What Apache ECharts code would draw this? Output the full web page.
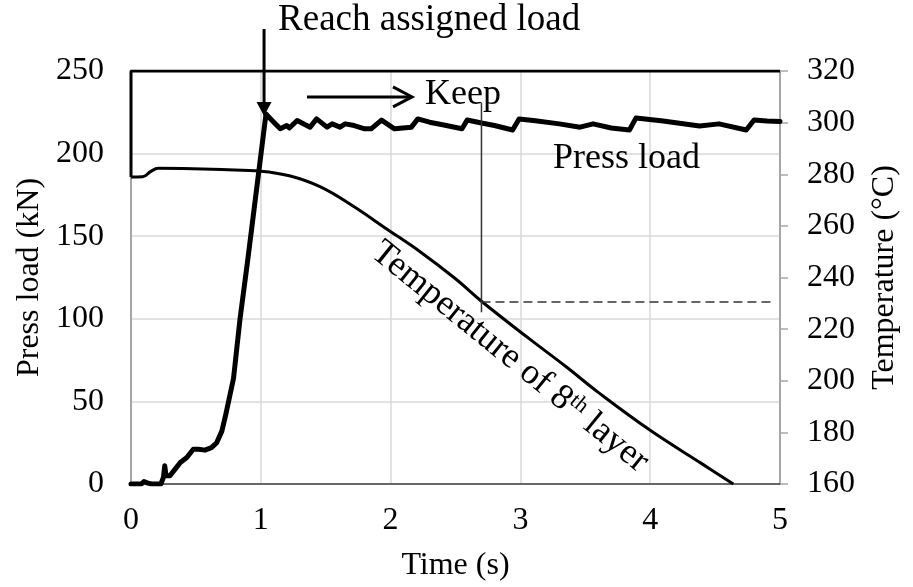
<!DOCTYPE html>
<html>
<head>
<meta charset="utf-8">
<script src="https://cdn.jsdelivr.net/npm/echarts@6/dist/echarts.min.js"></script>
<style>
  html, body { margin: 0; padding: 0; background: #fff; }
  #chart { width: 913px; height: 587px; }
</style>
</head>
<body>
<div id="chart"></div>
<script>
// press load (kN) vs time (s), left axis
const pressLoad = [
  [0, 0], [0.08, 0], [0.1, 1.5], [0.13, 0.5], [0.16, 0], [0.23, 0], [0.25, 4], [0.26, 11], [0.27, 5],
  [0.3, 5], [0.34, 9], [0.38, 13], [0.43, 16], [0.48, 21], [0.52, 21], [0.57, 20.5], [0.62, 22],
  [0.66, 25], [0.7, 32], [0.73, 42], [0.76, 53], [0.79, 64], [0.84, 100], [0.9, 136], [0.97, 180],
  [1.04, 224], [1.1, 219], [1.15, 215], [1.2, 217], [1.22, 215.5], [1.28, 220], [1.38, 216],
  [1.43, 221], [1.51, 216], [1.55, 218], [1.61, 216], [1.65, 218], [1.72, 217], [1.8, 215],
  [1.85, 215], [1.93, 220.3], [2.03, 215], [2.16, 216], [2.21, 221], [2.3, 219], [2.4, 217.5],
  [2.55, 215], [2.59, 220.3], [2.7, 218.5], [2.8, 217], [2.94, 214.3], [2.99, 221], [3.1, 220],
  [3.3, 218], [3.46, 216], [3.56, 218], [3.7, 215.5], [3.84, 214.3], [3.89, 221.5], [4.1, 219.7],
  [4.38, 216.7], [4.53, 218], [4.74, 214.3], [4.8, 220.3], [4.9, 219.8], [5, 219.5]
];

// temperature of 8th layer (°C), right axis
const temperature = [
  [0, 278.9], [0.09, 279.0], [0.15, 281], [0.21, 282.3], [0.4, 282.2], [0.7, 281.8], [1.0, 281.2],
  [1.22, 279.4], [1.46, 275.1], [1.71, 267.7], [1.97, 258.8], [2.23, 249.9], [2.5, 239.5],
  [2.7, 230.8], [3.07, 216.2], [3.35, 205.5], [3.6, 195.5], [4.0, 180.8], [4.4, 167.8], [4.64, 160]
];

// lead-in of the temperature trace along the top and left edge
const tempFrame = [[5, 320], [0, 320], [0, 278.9]];

// marker lines at the 230 °C point
const keepVertical = [[2.7, 104], [2.7, 231]];
const keepDashed = [[2.7, 230.5], [4.95, 230.5]];

const timeTicks = [0, 5, 1];
const loadTicks = [0, 250, 50];
const tempTicks = [160, 320, 20];

const FONT = "'Liberation Serif', 'Times New Roman', serif";

const chart = echarts.init(document.getElementById('chart'));

chart.setOption({
  animation: false,
  backgroundColor: '#fff',
  textStyle: { fontFamily: FONT, color: '#000' },
  grid: { left: 131, right: 133, top: 71, bottom: 103, outerBoundsMode: 'none' },
  xAxis: {
    type: 'value',
    min: timeTicks[0], max: timeTicks[1], interval: timeTicks[2],
    name: 'Time (s)',
    nameLocation: 'middle',
    nameGap: 66,
    nameTextStyle: { fontSize: 32, fontFamily: FONT, color: '#000' },
    axisLine: { lineStyle: { color: '#404040', width: 1.5 } },
    axisTick: { show: false },
    axisLabel: { fontSize: 32, fontFamily: FONT, color: '#000', margin: 21 },
    splitLine: { show: true, lineStyle: { color: '#d9d9d9', width: 1.5 } }
  },
  yAxis: [
    {
      type: 'value',
      min: loadTicks[0], max: loadTicks[1], interval: loadTicks[2],
      name: 'Press load (kN)',
      nameLocation: 'middle',
      nameRotate: 90,
      nameGap: 85,
      nameTextStyle: { fontSize: 32, fontFamily: FONT, color: '#000' },
      axisLine: { show: true, lineStyle: { color: '#a6a6a6', width: 2 } },
      axisTick: { show: false },
      axisLabel: { fontSize: 32, fontFamily: FONT, color: '#000', margin: 27 },
      splitLine: { show: true, lineStyle: { color: '#d9d9d9', width: 1.5 } }
    },
    {
      type: 'value',
      position: 'right',
      min: tempTicks[0], max: tempTicks[1], interval: tempTicks[2],
      name: 'Temperature (°C)',
      nameLocation: 'middle',
      nameRotate: 90,
      nameGap: 89,
      nameTextStyle: { fontSize: 32, fontFamily: FONT, color: '#000' },
      axisLine: { show: true, lineStyle: { color: '#a6a6a6', width: 2 } },
      axisTick: { show: true, inside: false, length: 8, lineStyle: { color: '#a6a6a6', width: 1.5 } },
      axisLabel: { fontSize: 32, fontFamily: FONT, color: '#000', margin: 27 },
      splitLine: { show: false }
    }
  ],
  series: [
    {
      name: 'frame', type: 'line', yAxisIndex: 1, data: tempFrame,
      showSymbol: false, silent: true,
      lineStyle: { color: '#000', width: 3 }
    },
    {
      name: 'Temperature', type: 'line', yAxisIndex: 1, data: temperature,
      showSymbol: false, silent: true, smooth: 0.4,
      lineStyle: { color: '#000', width: 3 }
    },
    {
      name: 'Press load', type: 'line', yAxisIndex: 0, data: pressLoad,
      showSymbol: false, silent: true,
      lineStyle: { color: '#000', width: 5, join: 'round', cap: 'round' }
    },
    {
      name: 'keepV', type: 'line', yAxisIndex: 0, data: keepVertical,
      showSymbol: false, silent: true,
      lineStyle: { color: '#333', width: 1.5 }
    },
    {
      name: 'keepD', type: 'line', yAxisIndex: 1, data: keepDashed,
      showSymbol: false, silent: true,
      lineStyle: { color: '#333', width: 1.5, type: [9, 5] }
    }
  ]
});

// annotations placed in data coordinates (time, press load)
function px(t, v) {
  return chart.convertToPixel({ xAxisIndex: 0, yAxisIndex: 0 }, [t, v]);
}

const shaftTop = px(1.025, 275.4);
const shaftTip = px(1.025, 222.8);
const hStart = px(1.356, 234.3);
const hTip = px(2.165, 234.3);
const reachPos = px(1.133, 281);
const keepPos = px(2.265, 236);
const pressPos = px(3.251, 197.3);
const tempLabelPos = px(2.92, 76.9);

const txt = (p, text, size) => ({
  type: 'text', x: p[0], y: p[1], silent: true,
  style: { text: text, fontSize: size, fontFamily: FONT, fill: '#000', align: 'left', verticalAlign: 'middle' }
});

chart.setOption({
  graphic: [
    {
      type: 'line', silent: true,
      shape: { x1: shaftTop[0], y1: shaftTop[1], x2: shaftTip[0], y2: shaftTip[1] - 12 },
      style: { stroke: '#000', lineWidth: 3 }
    },
    {
      type: 'polygon', silent: true,
      shape: { points: [[shaftTip[0] - 7.5, shaftTip[1] - 14], [shaftTip[0] + 7.5, shaftTip[1] - 14], [shaftTip[0], shaftTip[1]]] },
      style: { fill: '#000' }
    },
    {
      type: 'line', silent: true,
      shape: { x1: hStart[0], y1: hStart[1], x2: hTip[0] - 2, y2: hTip[1] },
      style: { stroke: '#000', lineWidth: 3 }
    },
    {
      type: 'polyline', silent: true,
      shape: { points: [[hTip[0] - 19, hTip[1] - 10], [hTip[0], hTip[1]], [hTip[0] - 19, hTip[1] + 10]] },
      style: { stroke: '#000', lineWidth: 3, fill: null }
    },
    txt(reachPos, 'Reach assigned load', 37),
    txt(keepPos, 'Keep', 36),
    txt(pressPos, 'Press load', 36),
    {
      type: 'text', x: tempLabelPos[0], y: tempLabelPos[1], rotation: -39 * Math.PI / 180, silent: true,
      style: {
        text: '{a|Temperature of 8}{b|th}{a| layer}',
        align: 'center', verticalAlign: 'middle', fill: '#000',
        rich: {
          a: { fontSize: 36, fontFamily: FONT, color: '#000' },
          b: { fontSize: 22, fontFamily: FONT, color: '#000', verticalAlign: 'top' }
        }
      }
    }
  ]
});
</script>
</body>
</html>
